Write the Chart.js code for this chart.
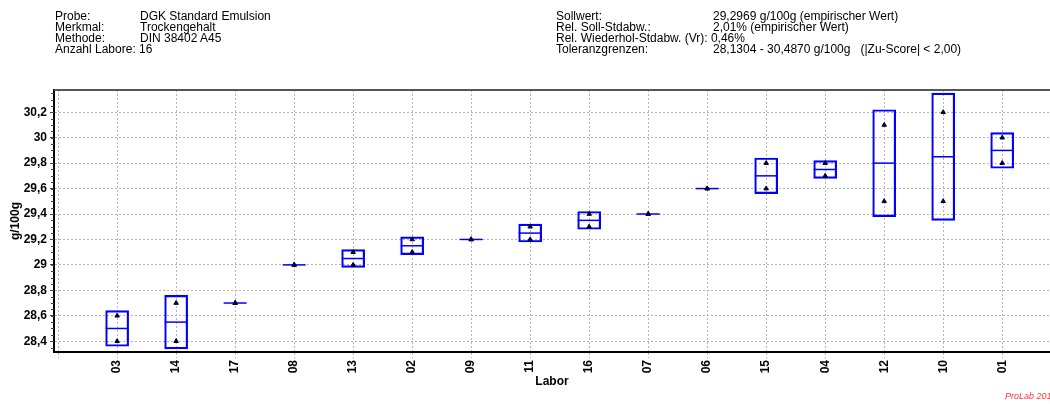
<!DOCTYPE html>
<html>
<head>
<meta charset="utf-8">
<script src="https://cdn.jsdelivr.net/npm/chart.js@4"></script>
<style>
  html, body { margin: 0; padding: 0; background: #fff; overflow: hidden; }
  #wrap { position: relative; width: 1050px; height: 404px; overflow: hidden; }
  canvas { position: absolute; left: 0; top: 0; }
  .info { position: absolute; font: 12px "Liberation Sans", Arial, sans-serif; line-height: 11px; color: #000; white-space: pre; }
  #prolab { position: absolute; left: 1005px; top: 391px; font: italic 9px "Liberation Sans", Arial, sans-serif; color: #ff3333; white-space: nowrap; }
</style>
</head>
<body>
<div id="wrap">
  <canvas id="chart" width="1050" height="404"></canvas>
  <div class="info" style="left:55px;top:11px">Probe:
Merkmal:
Methode:
Anzahl Labore: 16</div>
  <div class="info" style="left:140px;top:11px">DGK Standard Emulsion
Trockengehalt
DIN 38402 A45</div>
  <div class="info" style="left:556px;top:11px">Sollwert:
Rel. Soll-Stdabw.:
Rel. Wiederhol-Stdabw. (Vr): 0,46%
Toleranzgrenzen:</div>
  <div class="info" style="left:713px;top:11px">29,2969 g/100g (empirischer Wert)
2,01% (empirischer Wert)

28,1304 - 30,4870 g/100g   (|Zu-Score| &lt; 2,00)</div>
  <div id="prolab">ProLab 201</div>
</div>
<script>
const labs = ['03', '14', '17', '08', '13', '02', '09', '11', '16', '07', '06', '15', '04', '12', '10', '01'];
const value1 = [28.6, 28.7, 28.7, 29.0, 29.1, 29.2, 29.2, 29.3, 29.4, 29.4, 29.6, 29.8, 29.8, 30.1, 30.2, 30.0];
const value2 = [28.4, 28.4, 28.7, 29.0, 29.0, 29.1, 29.2, 29.2, 29.3, 29.4, 29.6, 29.6, 29.7, 29.5, 29.5, 29.8];
const means = [28.5, 28.55, 28.7, 29.0, 29.05, 29.15, 29.2, 29.25, 29.35, 29.4, 29.6, 29.7, 29.75, 29.8, 29.85, 29.9];
const boxLow = [28.36, 28.34, null, null, 28.98, 29.08, null, 29.18, 29.28, null, null, 29.56, 29.68, 29.38, 29.35, 29.76];
const boxHigh = [28.64, 28.76, null, null, 29.12, 29.22, null, 29.32, 29.42, null, null, 29.84, 29.82, 30.22, 30.35, 30.04];
const yTicks = [28.4, 28.6, 28.8, 29.0, 29.2, 29.4, 29.6, 29.8, 30.0, 30.2];
const yTickLabels = ['28,4', '28,6', '28,8', '29', '29,2', '29,4', '29,6', '29,8', '30', '30,2'];

const BLUE = '#0000ff';
const GRID = '#b4b4b4';
const FONT = '"Liberation Sans", Arial, sans-serif';

const boxData = labs
  .map((lab, i) => (boxLow[i] == null ? null : { x: i, y: [boxLow[i], boxHigh[i]] }))
  .filter(Boolean);
const meanData = labs.map((lab, i) => ({ x: i, y: means[i] }));
const pointData = labs.flatMap((lab, i) => [{ x: i, y: value1[i] }, { x: i, y: value2[i] }]);

// top frame line and small minor ticks on the y axis
const framePlugin = {
  id: 'frame',
  afterDraw(chart) {
    const { ctx, chartArea } = chart;
    const yScale = chart.scales.y;
    ctx.save();
    ctx.strokeStyle = '#555';
    ctx.lineWidth = 2;
    ctx.beginPath();
    ctx.moveTo(chartArea.left, chartArea.top);
    ctx.lineTo(chartArea.right, chartArea.top);
    ctx.stroke();

    ctx.strokeStyle = '#444';
    ctx.lineWidth = 1;
    ctx.beginPath();
    for (let k = 0; k < 42; k++) {
      const v = 28.35 + k * 0.05;
      if (v > yScale.max || v < yScale.min) continue;
      const y = Math.round(yScale.getPixelForValue(v)) + 0.5;
      ctx.moveTo(chartArea.left - 3, y);
      ctx.lineTo(chartArea.left, y);
    }
    ctx.stroke();
    ctx.restore();
  }
};

new Chart(document.getElementById('chart'), {
  type: 'bar',
  data: {
    datasets: [
      {
        type: 'scatter',
        data: pointData,
        pointStyle: 'triangle',
        radius: 2.6,
        backgroundColor: '#000033',
        borderColor: '#000033',
        borderWidth: 1,
        order: 0
      },
      {
        type: 'scatter',
        data: meanData,
        pointStyle: 'line',
        radius: 11.5,
        borderColor: BLUE,
        borderWidth: 1.5,
        order: 1
      },
      {
        type: 'bar',
        data: boxData,
        barThickness: 23,
        backgroundColor: 'rgba(0,0,0,0)',
        borderColor: BLUE,
        borderWidth: 1.5,
        borderSkipped: false,
        order: 2
      }
    ]
  },
  options: {
    responsive: false,
    animation: false,
    layout: { autoPadding: false, padding: { top: 90, left: 0, right: 0, bottom: 0 } },
    plugins: {
      legend: { display: false },
      tooltip: { enabled: false }
    },
    scales: {
      x: {
        type: 'linear',
        offset: false,
        min: -1.07,
        max: 15.81,
        afterBuildTicks(scale) {
          scale.ticks = [-1].concat(labs.map((lab, i) => i)).map((v) => ({ value: v }));
        },
        afterFit(scale) {
          scale.height = 52;
          scale.paddingLeft = 0;
          scale.paddingRight = 0;
        },
        ticks: {
          autoSkip: false,
          minRotation: 90,
          maxRotation: 90,
          padding: 2,
          color: '#000',
          font: { family: FONT, size: 12, weight: 'bold' },
          callback: (value) => labs[value] || ''
        },
        grid: {
          offset: false,
          color: GRID,
          tickBorderDash: [2, 2],
          tickColor: GRID,
          tickLength: 6,
          lineWidth: 1
        },
        border: { color: '#000', width: 2, dash: [2, 2] },
        title: {
          display: true,
          text: 'Labor',
          color: '#000',
          font: { family: FONT, size: 12, weight: 'bold' },
          padding: { top: 0, bottom: 15 }
        }
      },
      y: {
        type: 'linear',
        min: 28.315,
        max: 30.375,
        afterBuildTicks(scale) {
          scale.ticks = yTicks.map((v) => ({ value: v }));
        },
        afterFit(scale) {
          scale.width = 54;
        },
        ticks: {
          padding: 3,
          color: '#000',
          font: { family: FONT, size: 12, weight: 'bold' },
          callback: (value, index) => yTickLabels[index]
        },
        grid: {
          color: GRID,
          tickColor: '#444',
          tickBorderDash: [],
          tickLength: 4,
          lineWidth: 1
        },
        border: { color: '#000', width: 2, dash: [2, 2] },
        title: {
          display: true,
          text: 'g/100g',
          color: '#000',
          font: { family: FONT, size: 12, weight: 'bold' },
          padding: { top: 8, bottom: 0 }
        }
      }
    }
  },
  plugins: [framePlugin]
});
</script>
</body>
</html>
